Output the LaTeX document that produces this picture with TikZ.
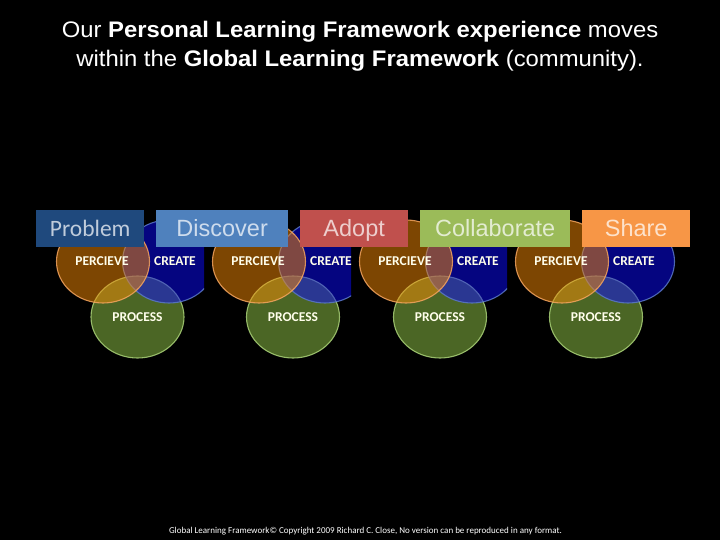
\documentclass[tikz,border=0pt]{standalone}
\usepackage{fontspec}
\setmainfont{Liberation Sans}
\newfontfamily\carlito{Carlito}
\usepackage{tikz}
\usetikzlibrary{calc}
\usepackage{xcolor}

\definecolor{percfill}{RGB}{250,140,5}
\definecolor{percline}{RGB}{245,165,95}
\definecolor{creafill}{RGB}{10,10,255}
\definecolor{crealine}{RGB}{90,120,200}
\definecolor{procfill}{RGB}{150,205,75}
\definecolor{procline}{RGB}{170,210,120}
\definecolor{cProblem}{RGB}{31,73,125}
\definecolor{cDiscover}{RGB}{79,129,189}
\definecolor{cAdopt}{RGB}{192,80,77}
\definecolor{cCollab}{RGB}{155,187,89}
\definecolor{cShare}{RGB}{247,150,70}

\tikzset{
  perc/.style={draw=percline, fill=percfill, fill opacity=0.5, draw opacity=0.85, line width=1.1pt},
  crea/.style={draw=crealine, fill=creafill, fill opacity=0.5, draw opacity=0.85, line width=1.1pt},
  proc/.style={draw=procline, fill=procfill, fill opacity=0.5, draw opacity=0.85, line width=1.1pt},
  vtext/.style={text=white!92!yellow, font=\carlito\bfseries\fontsize{13.5}{14}\selectfont},
  phase/.style={fill=#1, text=white!72!#1, anchor=north west, inner sep=0pt,
    minimum height=37pt, text height=18.5pt, text depth=2.5pt, font=\fontsize{23.5}{24}\selectfont},
}

\begin{document}
\begin{tikzpicture}[x=1pt,y=-1pt]
  \fill[black] (0,0) rectangle (720,540);
  \node[text=white, align=center, xscale=1.06, font=\fontsize{22.5}{29}\selectfont] (title) at (360,46.5)
    {Our \textbf{Personal Learning Framework experience} moves\\
     within the \textbf{Global Learning Framework} (community).};

  \coordinate (pO1) at (103,261.5);
  \coordinate (pB1) at (169,261.5);
  \coordinate (pG1) at (137.5,317);
  \coordinate (pO2) at (259,261.5);
  \coordinate (pB2) at (325,261.5);
  \coordinate (pG2) at (293,317);
  \coordinate (pO3) at (406,261.5);
  \coordinate (pB3) at (472,261.5);
  \coordinate (pG3) at (440,317);
  \coordinate (pO4) at (562,261.5);
  \coordinate (pB4) at (628,261.5);
  \coordinate (pG4) at (596,317);

  \draw[proc] (pG1) ellipse [x radius=46.5pt, y radius=41pt];
  \begin{scope}
    \clip (0,200) rectangle (204,370);
    \draw[crea] (pB1) ellipse [x radius=46.5pt, y radius=41.5pt];
  \end{scope}
  \draw[perc] (pO1) ellipse [x radius=46.5pt, y radius=41.5pt];

  \draw[proc] (pG2) ellipse [x radius=46.5pt, y radius=41pt];
  \begin{scope}
    \clip (200,200) rectangle (351,370);
    \draw[crea] (pB2) ellipse [x radius=46.5pt, y radius=41.5pt];
  \end{scope}
  \draw[perc] (pO2) ellipse [x radius=46.5pt, y radius=41.5pt];

  \draw[proc] (pG3) ellipse [x radius=46.5pt, y radius=41pt];
  \begin{scope}
    \clip (350,200) rectangle (507,370);
    \draw[crea] (pB3) ellipse [x radius=46.5pt, y radius=41.5pt];
  \end{scope}
  \draw[perc] (pO3) ellipse [x radius=46.5pt, y radius=41.5pt];

  \draw[proc] (pG4) ellipse [x radius=46.5pt, y radius=41pt];
  \draw[crea] (pB4) ellipse [x radius=46.5pt, y radius=41.5pt];
  \draw[perc] (pO4) ellipse [x radius=46.5pt, y radius=41.5pt];

  \node[vtext] (perc1) at ($(pO1)+(-1,0)$) {PERCIEVE};
  \node[vtext] (crea1) at ($(pO1)+(72,0)$) {CREATE};
  \node[vtext] (proc1) at (pG1) {PROCESS};
  \node[vtext] (perc2) at ($(pO2)+(-1,0)$) {PERCIEVE};
  \node[vtext] (crea2) at ($(pO2)+(72,0)$) {CREATE};
  \node[vtext] (proc2) at (pG2) {PROCESS};
  \node[vtext] (perc3) at ($(pO3)+(-1,0)$) {PERCIEVE};
  \node[vtext] (crea3) at ($(pO3)+(72,0)$) {CREATE};
  \node[vtext] (proc3) at (pG3) {PROCESS};
  \node[vtext] (perc4) at ($(pO4)+(-1,0)$) {PERCIEVE};
  \node[vtext] (crea4) at ($(pO4)+(72,0)$) {CREATE};
  \node[vtext] (proc4) at (pG4) {PROCESS};

  \node[phase=cProblem, minimum width=108pt, font=\carlito\fontsize{23.5}{24}\selectfont] (problem) at (36,210) {Problem};
  \node[phase=cDiscover, minimum width=132pt] (discover) at (156,210) {Discover};
  \node[phase=cAdopt, minimum width=108pt] (adopt) at (300,210) {Adopt};
  \node[phase=cCollab, minimum width=150pt] (collab) at (420,210) {Collaborate};
  \node[phase=cShare, minimum width=108pt] (share) at (582,210) {Share};

  \node[text=white, font=\carlito\fontsize{9}{10}\selectfont] (footer) at (365.5,531)
    {Global Learning Framework© Copyright 2009 Richard C. Close, No version can be reproduced in any format.};
\end{tikzpicture}
\end{document}
